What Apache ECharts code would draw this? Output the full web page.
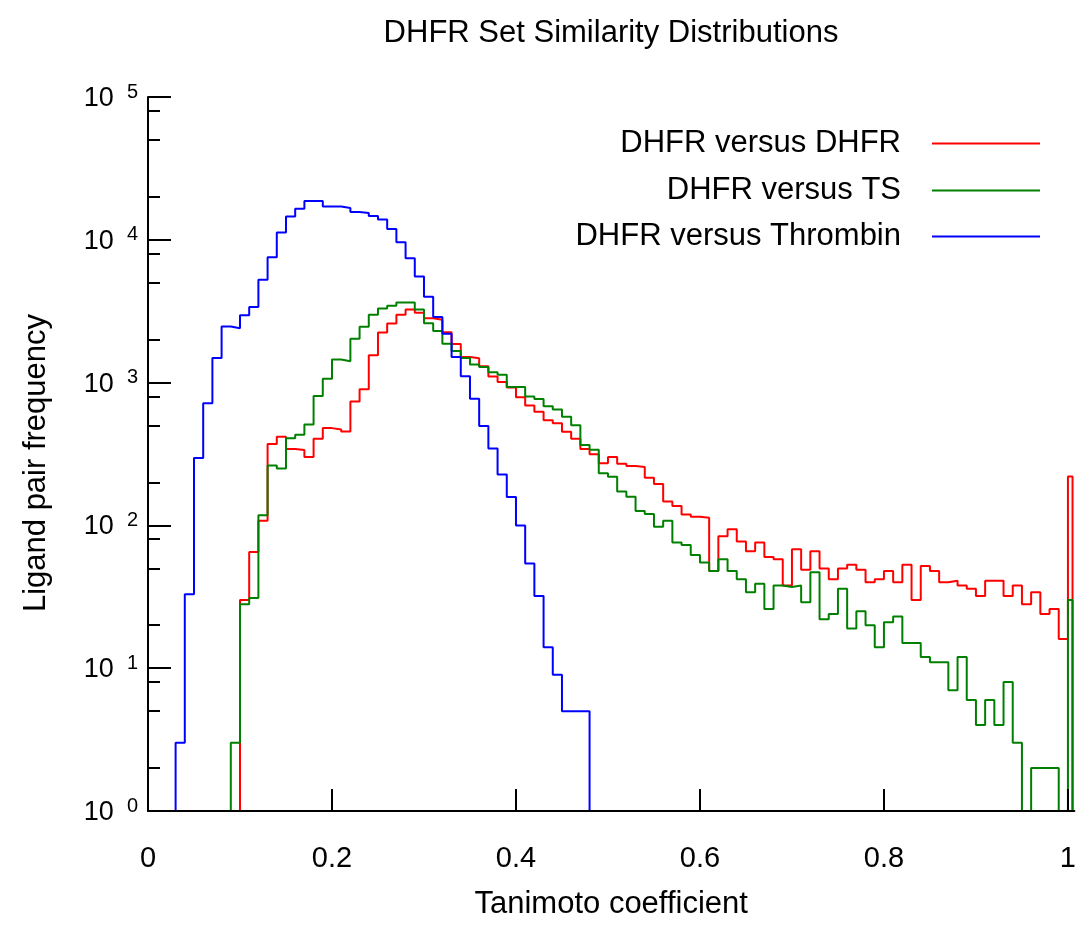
<!DOCTYPE html>
<html>
<head>
<meta charset="utf-8">
<title>DHFR Set Similarity Distributions</title>
<script src="https://cdn.jsdelivr.net/npm/echarts@6/dist/echarts.min.js"></script>
<style>
    html, body { margin: 0; padding: 0; background: #fff; }
    #fig_similarity { width: 1079px; height: 940px; }
</style>
</head>
<body>
<div id="fig_similarity"></div>
<script>
// counts per Tanimoto bin: index i is the bin starting at i * 0.01,
// the last entry (i = 100) is the narrow bin sitting on 1.0
var binWidth = 0.01;
var lastBinWidth = 0.005;

var dhfr_dhfr = [
    0, 0, 0, 0, 0, 0, 0, 0, 0, 0,
    30, 65, 108, 372, 418, 343, 337, 301, 405, 480,
    470, 455, 738, 900, 1555, 2240, 2590, 2990, 3250, 3085,
    2820, 2755, 2250, 1865, 1510, 1480, 1300, 1105, 1010, 925,
    790, 690, 625, 545, 520, 452, 405, 343, 315, 272,
    301, 270, 261, 256, 216, 195, 147, 137, 119, 115,
    113, 48, 84, 94, 77, 66, 76, 60, 58, 38,
    68, 49, 66, 50, 42, 50, 53, 49, 40, 42,
    48, 40, 53, 30, 52, 48, 40, 41, 38, 36,
    32, 41, 41, 32, 38, 28, 34, 24, 26, 16,
    220
];
var dhfr_ts = [
    0, 0, 0, 0, 0, 0, 0, 0, 0, 3,
    28, 31, 118, 263, 250, 408, 431, 508, 806, 1065,
    1450, 1410, 2030, 2460, 2990, 3300, 3450, 3640, 3640, 3250,
    2600, 2300, 1870, 1665, 1485, 1340, 1285, 1180, 1135, 930,
    930, 800, 768, 684, 648, 576, 503, 365, 338, 232,
    219, 173, 159, 126, 120, 98, 108, 76, 73, 62,
    55, 48, 58, 48, 42, 34, 39, 26, 38, 37,
    38, 29, 47, 22, 24, 36, 19, 25, 20, 14,
    21, 23, 15, 15, 12, 11, 11, 7, 12, 6,
    4, 6, 4, 8, 3, 0, 2, 2, 2, 0,
    30
];
var dhfr_thrombin = [
    0, 0, 0, 3, 33, 296, 716, 1488, 2472, 2400,
    2960, 3385, 5260, 7550, 11270, 14540, 16500, 18700, 18700, 17100,
    17100, 16700, 15640, 15380, 14700, 13900, 11900, 9600, 7440, 5530,
    4000, 2880, 2200, 1510, 1110, 770, 497, 345, 227, 158,
    100, 54, 32, 14, 9, 5, 5, 5, 0, 0,
    0, 0, 0, 0, 0, 0, 0, 0, 0, 0,
    0, 0, 0, 0, 0, 0, 0, 0, 0, 0,
    0, 0, 0, 0, 0, 0, 0, 0, 0, 0,
    0, 0, 0, 0, 0, 0, 0, 0, 0, 0,
    0, 0, 0, 0, 0, 0, 0, 0, 0, 0,
    0
];

var seriesNames = ['DHFR versus DHFR', 'DHFR versus TS', 'DHFR versus Thrombin'];
var seriesCounts = [dhfr_dhfr, dhfr_ts, dhfr_thrombin];
var seriesColors = ['#ff0000', '#008000', '#0000ff'];

var xTicks = [0, 0.2, 0.4, 0.6, 0.8, 1];
var yMinorTicks = [2, 5, 8, 20, 50, 80, 200, 500, 800, 2000, 5000, 8000, 20000, 50000, 80000];

var fontFamily = '"Liberation Sans", Arial, Helvetica, sans-serif';

// turn bin counts into step points; empty bins sit on the axis floor (10^0)
function histOutline(counts) {
    var first = -1, last = -1;
    for (var i = 0; i < counts.length; i++) {
        if (counts[i] > 0) {
            if (first < 0) first = i;
            last = i;
        }
    }
    var edge = function(k) { return +(k * binWidth).toFixed(4); };
    var pts = [[edge(first), 1]];
    for (var j = first; j <= last; j++) {
        pts.push([edge(j), counts[j] > 0 ? counts[j] : 1]);
    }
    var end = (last === counts.length - 1) ? edge(last) + lastBinWidth : edge(last + 1);
    pts.push([end, 1]);
    return pts;
}

var fig_similarity = {
    plot_id: 'fig_similarity',
    plot_chart: null,

    init: function() {
        var legendTops = [128, 175, 221];
        var axisLineStyle = { color: '#000', width: 2 };

        this.option = {
            animation: false,
            textStyle: { fontFamily: fontFamily, color: '#000' },
            title: {
                text: 'DHFR Set Similarity Distributions',
                left: 606,
                top: 13,
                textAlign: 'center',
                textStyle: { fontSize: 31, fontWeight: 'normal', color: '#000', fontFamily: fontFamily }
            },
            legend: seriesNames.map(function(name, i) {
                return {
                    data: [name],
                    orient: 'vertical',
                    right: 39,
                    top: legendTops[i],
                    padding: 0,
                    align: 'right',
                    icon: 'rect',
                    itemWidth: 108,
                    itemHeight: 2,
                    selectedMode: false,
                    textStyle: {
                        fontSize: 31, color: '#000', fontFamily: fontFamily,
                        padding: [0, 26, 0, 0]
                    }
                };
            }),
            grid: {
                left: 148,
                right: 0,
                top: 97,
                bottom: 129,
                containLabel: false
            },
            xAxis: {
                type: 'value',
                min: 0,
                max: 1.007,
                z: 5,
                axisLine: { onZero: false, lineStyle: axisLineStyle },
                axisTick: { inside: true, length: 22, customValues: xTicks, lineStyle: axisLineStyle },
                axisLabel: {
                    customValues: xTicks,
                    margin: 33,
                    fontSize: 29,
                    color: '#000',
                    fontFamily: fontFamily
                },
                splitLine: { show: false },
                name: 'Tanimoto coefficient',
                nameLocation: 'middle',
                nameGap: 78,
                nameTextStyle: { fontSize: 31, color: '#000', fontFamily: fontFamily }
            },
            yAxis: [{
                type: 'log',
                logBase: 10,
                min: 1,
                max: 100000,
                position: 'left',
                z: 5,
                axisLine: { onZero: false, lineStyle: axisLineStyle },
                axisTick: { inside: true, length: 23, lineStyle: axisLineStyle },
                splitLine: { show: false },
                axisLabel: {
                    margin: 10,
                    formatter: function(val) {
                        return '{b|10}{s|' + Math.round(Math.log10(val)) + '}';
                    },
                    rich: {
                        b: { fontSize: 27, lineHeight: 30, padding: [3, 0, 0, 0], color: '#000', fontFamily: fontFamily },
                        s: { fontSize: 20, lineHeight: 10, verticalAlign: 'top', padding: [0, 0, 0, 13],
                             color: '#000', fontFamily: fontFamily }
                    }
                },
                name: 'Ligand pair frequency',
                nameLocation: 'middle',
                nameGap: 96,
                nameTextStyle: { fontSize: 31, color: '#000', fontFamily: fontFamily, padding: [0, 18, 0, 0] }
            }, {
                // minor ticks at 2, 5, 8 of each decade
                type: 'log',
                logBase: 10,
                min: 1,
                max: 100000,
                position: 'left',
                z: 5,
                axisLine: { show: false },
                axisLabel: { show: false },
                splitLine: { show: false },
                axisTick: { inside: true, length: 12, customValues: yMinorTicks, lineStyle: axisLineStyle }
            }],
            series: seriesNames.map(function(name, i) {
                return {
                    name: name,
                    type: 'line',
                    step: 'end',
                    yAxisIndex: 0,
                    symbol: 'none',
                    data: histOutline(seriesCounts[i]),
                    itemStyle: { color: seriesColors[i] },
                    lineStyle: { color: seriesColors[i], width: 2 }
                };
            })
        };

        this.plot_chart = echarts.init(document.getElementById(this.plot_id));
        this.plot_chart.setOption(this.option);
    }
};

fig_similarity.init();
</script>
</body>
</html>
